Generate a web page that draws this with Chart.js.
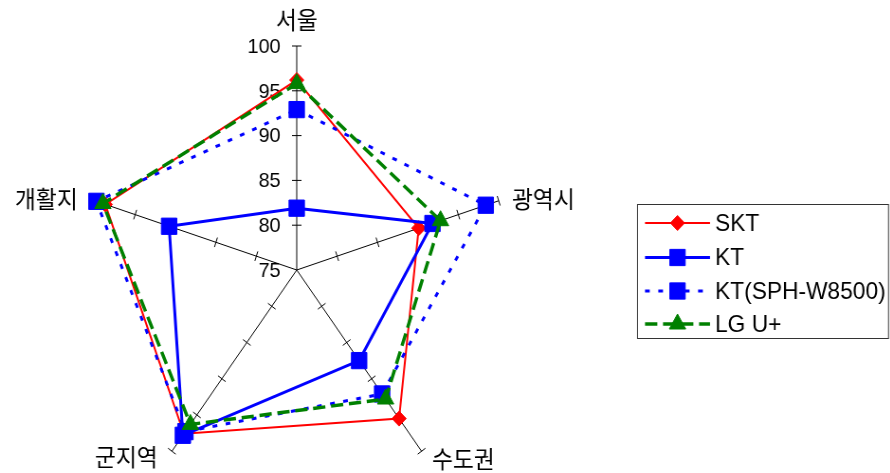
<!DOCTYPE html>
<html>
<head>
<meta charset="utf-8">
<script src="https://cdn.jsdelivr.net/npm/chart.js@4/dist/chart.umd.min.js"></script>
<style>
    html, body { margin: 0; padding: 0; background: #fff; overflow: hidden; width: 890px; height: 473px; }
    #wrap {
        position: absolute; left: 0; top: 0;
        width: 939px; height: 500px;
        transform: scaleX(0.948); transform-origin: 0 0;
    }
</style>
</head>
<body>
<div id="wrap"><canvas id="radar"></canvas></div>
<script>
// 측정 항목 (축)
const categories = ['서울', '광역시', '수도권', '군지역', '개활지'];
const tickValues = [75, 80, 85, 90, 95, 100];

// 통신사별 값
const sktValues = [96.2, 90.1, 95.5, 97.6, 98.7];
const ktValues = [81.9, 91.8, 87.5, 97.8, 90.8];
const ktSphValues = [92.9, 98.4, 92.1, 97.3, 99.8];
const lguValues = [95.8, 92.8, 92.8, 96.3, 99.0];

const S = 0.948; // 가로 압축 비율 (#wrap 의 scaleX 와 같음)

const seriesNames = ['SKT', 'KT', 'KT(SPH-W8500)', 'LG U+'];

// 축 이름 위치 보정 (축 끝점 기준)
const labelOffsets = [
    { dx: 0, dy: -26, align: 'center' },
    { dx: 14, dy: -2, align: 'left' },
    { dx: 11, dy: 8, align: 'left' },
    { dx: -15, dy: 6, align: 'right' },
    { dx: -18, dy: -2, align: 'right' }
];

const decorations = {
    id: 'decorations',
    beforeDatasetsDraw(chart) {
        const r = chart.scales.r;
        const ctx = chart.ctx;
        ctx.save();
        ctx.strokeStyle = '#000';
        ctx.lineWidth = 1;

        // 축 눈금
        for (let i = 0; i < categories.length; i++) {
            const a = r.getIndexAngle(i) - Math.PI / 2;
            const nx = -Math.sin(a), ny = Math.cos(a);
            tickValues.forEach(v => {
                if (v === r.min) return;
                const p = r.getPointPosition(i, r.getDistanceFromCenterForValue(v));
                ctx.beginPath();
                ctx.moveTo(p.x - nx * 5, p.y - ny * 5);
                ctx.lineTo(p.x + nx * 5, p.y + ny * 5);
                ctx.stroke();
            });
        }

        // 눈금 숫자 (첫 번째 축 왼쪽)
        ctx.fillStyle = '#000';
        ctx.font = '21px "Liberation Sans", Arial, sans-serif';
        ctx.textAlign = 'right';
        ctx.textBaseline = 'middle';
        tickValues.forEach(v => {
            const p = r.getPointPosition(0, r.getDistanceFromCenterForValue(v));
            ctx.fillText(String(v), p.x - 17, p.y + 1);
        });

        // 축 이름
        ctx.font = '24px "Noto Sans CJK KR", sans-serif';
        categories.forEach((name, i) => {
            const p = r.getPointPosition(i, r.drawingArea);
            const o = labelOffsets[i];
            ctx.textAlign = o.align;
            ctx.fillText(name, p.x + o.dx, p.y + o.dy);
        });
        ctx.restore();
    },
    afterDraw(chart) {
        const ctx = chart.ctx;
        ctx.save();
        // 범례 테두리
        const left = 637.5 / S, right = 888.5 / S, top = 204.5, bottom = 338.5;
        ctx.strokeStyle = '#333';
        ctx.lineWidth = 1;
        ctx.strokeRect(left, top, right - left, bottom - top);

        const rowY = [223, 257.5, 291, 324];
        const x1 = 645 / S, x2 = 710 / S, xm = (x1 + x2) / 2, xt = 715 / S;
        chart.data.datasets.forEach((ds, i) => {
            const y = rowY[i];
            ctx.strokeStyle = ds.borderColor;
            ctx.lineWidth = ds.borderWidth;
            ctx.setLineDash(ds.borderDash || []);
            ctx.beginPath();
            ctx.moveTo(x1, y);
            ctx.lineTo(x2, y);
            ctx.stroke();
            ctx.setLineDash([]);
            ctx.fillStyle = ds.pointBackgroundColor;
            ctx.strokeStyle = ds.pointBorderColor;
            ctx.lineWidth = 1;
            Chart.helpers.drawPoint(ctx, {
                pointStyle: ds.pointStyle, radius: ds.pointRadius, rotation: 0, borderWidth: 1
            }, xm, y);
            ctx.fillStyle = '#000';
            ctx.font = '24px "Liberation Sans", Arial, sans-serif';
            ctx.textAlign = 'left';
            ctx.textBaseline = 'middle';
            ctx.fillText(ds.label, xt, y + 1);
        });
        ctx.restore();
    }
};

function makeSet(label, data, color, width, dash, style, radius, order) {
    return {
        label: label,
        data: data,
        borderColor: color,
        borderWidth: width,
        borderDash: dash,
        pointStyle: style,
        pointRadius: radius,
        pointHoverRadius: radius,
        pointBackgroundColor: color,
        pointBorderColor: color,
        pointBorderWidth: 1,
        backgroundColor: 'transparent',
        fill: false,
        tension: 0,
        clip: false,
        order: order
    };
}

new Chart(document.getElementById('radar'), {
    type: 'radar',
    data: {
        labels: categories,
        datasets: [
            makeSet(seriesNames[0], sktValues, '#ff0000', 2, [], 'rectRot', 7.5, 3),
            makeSet(seriesNames[1], ktValues, '#0000ff', 3, [], 'rect', 11.5, 2),
            makeSet(seriesNames[2], ktSphValues, '#0000ff', 3, [5, 9], 'rect', 11.5, 1),
            makeSet(seriesNames[3], lguValues, '#008000', 3.5, [13, 6], 'triangle', 10, 0)
        ]
    },
    options: {
        responsive: true,
        maintainAspectRatio: false,
        animation: false,
        layout: { padding: { left: 89, top: 46, right: 402, bottom: 6 } },
        plugins: {
            legend: { display: false },
            tooltip: { enabled: false }
        },
        scales: {
            r: {
                min: 75,
                max: 100,
                ticks: { stepSize: 5, display: false },
                grid: { display: false },
                angleLines: { display: true, color: '#000', lineWidth: 1 },
                pointLabels: { display: false }
            }
        }
    },
    plugins: [decorations]
});
</script>
</body>
</html>
